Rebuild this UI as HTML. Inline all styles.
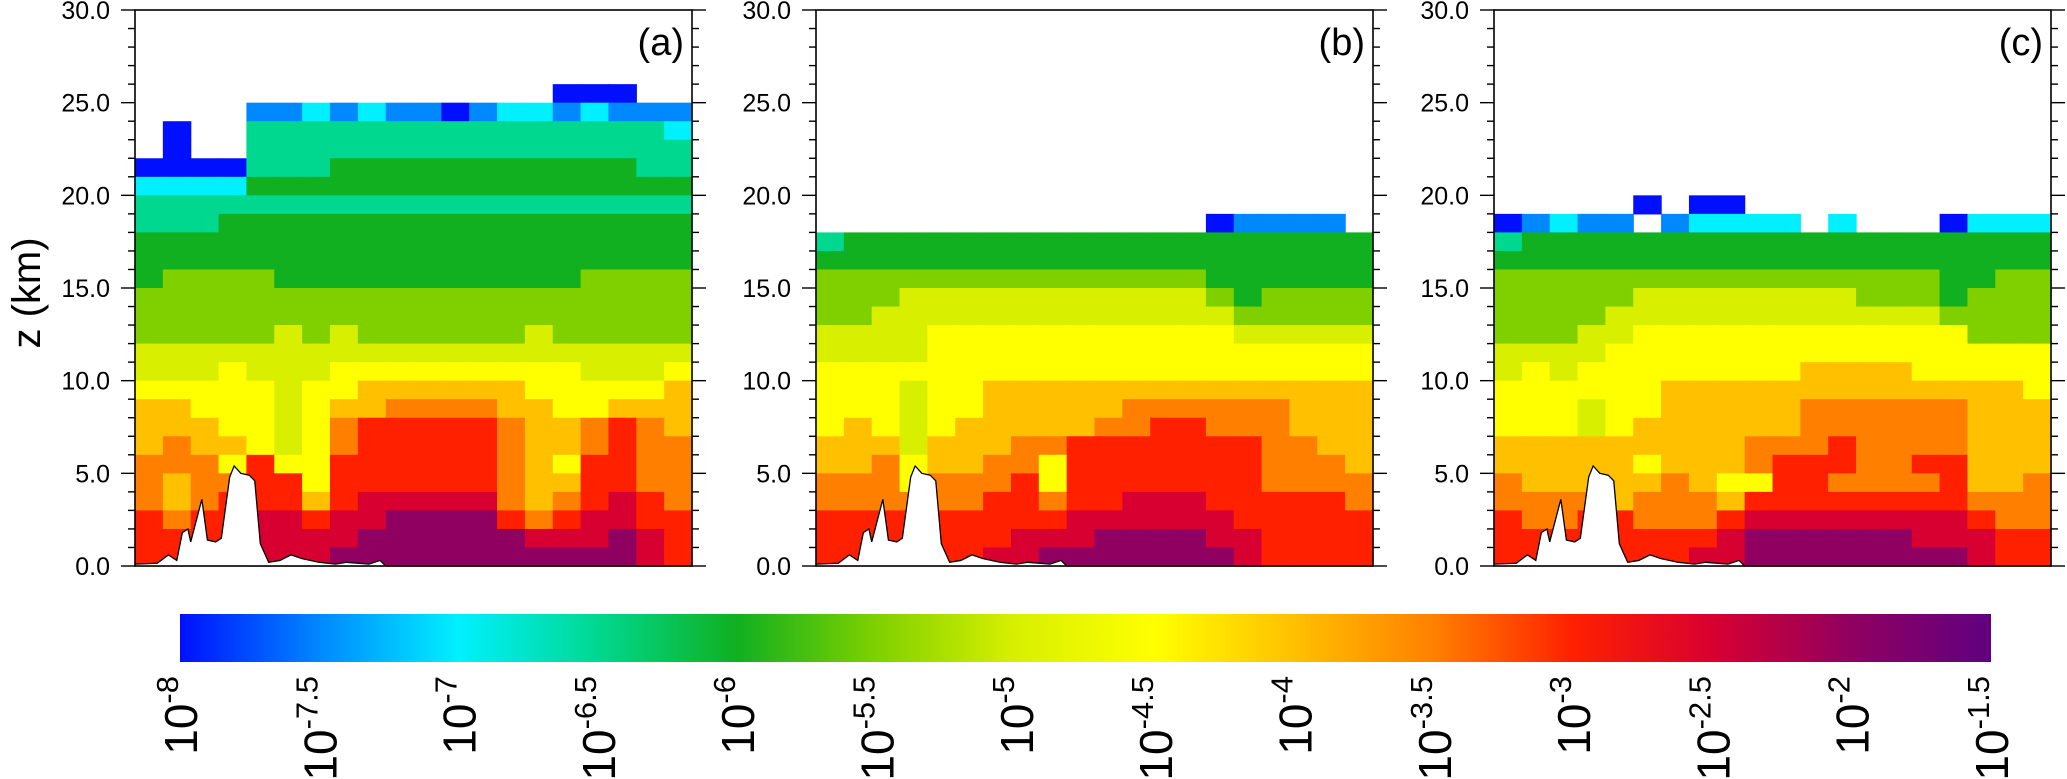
<!DOCTYPE html>
<html><head><meta charset="utf-8"><style>
html,body{margin:0;padding:0;background:#fff;}
svg{display:block;font-family:"Liberation Sans",sans-serif;}
</style></head><body>
<svg id="fig" width="2067" height="779" viewBox="0 0 2067 779" xmlns="http://www.w3.org/2000/svg">
<defs><linearGradient id="cbg" x1="0" x2="1" y1="0" y2="0"></linearGradient></defs>
<text x="0" y="0" transform="translate(40,293) rotate(-90)" text-anchor="middle" font-size="40">z (km)</text>
</svg>
<script>
// ---- data ----
const levelExps = [-8,-7.5,-7,-6.5,-6,-5.5,-5,-4.5,-4,-3.5,-3,-2.5,-2,-1.5];
const levelColors = ["#0010ff","#0088ff","#00f0ff","#00d890","#10b020","#80d000","#d8f000","#ffff00","#ffc000","#ff8000","#ff2000","#d80030","#900060","#600080"];
const yTicks = [0,5,10,15,20,25,30];
const panelLabels = ["(a)","(b)","(c)"];
const terrainX = [0,0.04,0.06,0.075,0.085,0.095,0.1,0.12,0.13,0.145,0.155,0.17,0.178,0.19,0.205,0.215,0.225,0.24,0.26,0.28,0.3,0.33,0.36,0.38,0.42,0.44,0.45,1];
const terrainZ = [0.1,0.15,0.6,0.3,1.8,2.0,1.3,3.6,1.4,1.3,1.5,4.8,5.4,5.0,4.9,4.6,1.2,0.2,0.3,0.6,0.4,0.2,0.1,0.2,0.1,0.3,0,0];
// grids: rows from z=29 (top) down to z=0, 20 columns; '.' = no data, a..n = levelExps index
const gridA = [
"....................","....................","....................",
"....................",
"...............aaa..",
"....bbcbcbbabccbcbbb",
".a..dddddddddddddddc",
".a..dddddddddddddddd",
"aaaadddeeeeeeeeeeedd",
"cccceeeeeeeeeeeeeeee",
"dddddddddddddddddddd",
"dddeeeeeeeeeeeeeeeee",
"eeeeeeeeeeeeeeeeeeee",
"eeeeeeeeeeeeeeeeeeee",
"effffeeeeeeeeeeeffff",
"ffffffffffffffffffff",
"ffffffffffffffffffff",
"fffffgfgffffffgfffff",
"gggggggggggggggggggg",
"ggghggghhhhhhhhhgggh",
"hhhhhghhiiiiiihhhhhi",
"iihhhghiijjjjiihhiii",
"iiihhghjkkkkkjiijkji",
"ijiihghjkkkkkjiijkjj",
"jjjhkhhkkkkkkjihkkjj",
"jijjkkhkkkkkkjiikkjj",
"jijkkkikllllljijklkj",
"kjkkllkllmmmmkjkllkk",
"kkkkllllmmmmmmlllmlk",
"kkkklllmmmmmmmmmmmlk"];
const gridB = [
"....................","....................","....................","....................",
"....................","....................","....................","....................",
"....................","....................","....................",
"..............abbbb.",
"deeeeeeeeeeeeeeeeeee",
"eeeeeeeeeeeeeeeeeeee",
"ffffffffffffffeeeeee",
"fffgggggggggggfeffff",
"ffgggggggggggggfffff",
"gggghhhhhhhhhhhggggg",
"gggghhhhhhhhhhhhhhhh",
"hhhhhhhhhhhhhhhhhhhh",
"hhhghhiiiiiiiiiiiiii",
"hhhghhiiiiijjjjjjiii",
"hihghiiiiijjkkjjjiii",
"iiigiiijjkkkkkkkjjii",
"iijhiijjhkkkkkkkjjji",
"jjjhjjjkhkkkkkkkjjjj",
"jjjjjjkkjkklllkkkkkj",
"kkkkkkkkkllllllkkkkk",
"kkkkkkklllmmmmllkkkk",
"kkkkkkllmmmmmmmlkkkk"];
const gridC = [
"....................","....................","....................","....................",
"....................","....................","....................","....................",
"....................","....................",
".....a.aa...........",
"abcbb.bcccc.c...accc",
"deeeeeeeeeeeeeeeeeee",
"eeeeeeeeeeeeeeeeeeee",
"ffffffffffffffffeeff",
"fffffggggggggfffefff",
"ffffggggggggggggffff",
"fffgghhhhhhhhhhhhfff",
"gggghhhhhhhhhhhhhhhh",
"ghghhhhhhhhiiiihhhhh",
"hhhhhhiiiiiiiiiiiiih",
"hhhghhiiiiijjjjjjiii",
"hhhghiiiiiijjjjjjiii",
"iiiiiiiiijjjkjjjjiii",
"iiiiihiiijkkkjjkkiii",
"jiiiiijihhkkjjjjkiij",
"jjjjijjjikkkkkkkkjjj",
"kjjkkjjjkllllllllkjj",
"kkkkkkkklmmmmmmlllkk",
"kkkkkkkllmmmmmmmmlkk"];
const grids = [gridA, gridB, gridC];
const cbLabels = ["-8","-7.5","-7","-6.5","-6","-5.5","-5","-4.5","-4","-3.5","-3","-2.5","-2","-1.5"];

// ---- layout ----
const NS = "http://www.w3.org/2000/svg";
const svg = document.getElementById("fig");
const panelLefts = [135, 816, 1494];
const PW = 557, PT = 10, PB = 566, ZMAX = 30;
function mk(tag, attrs, parent){const e=document.createElementNS(NS,tag);for(const k in attrs)e.setAttribute(k,attrs[k]);(parent||svg).appendChild(e);return e;}
function yScale(z){return PB - (z/ZMAX)*(PB-PT);}

grids.forEach((grid, p) => {
  const x0 = panelLefts[p];
  const xScale = f => x0 + f*PW;
  const g = mk("g", {});
  
  
  const nr = grid.length, nc = grid[0].length;
  for (let r = 0; r < nr; r++) {
    const z = (nr - 1 - r);
    for (let c = 0; c < nc; c++) {
      const ch = grid[r][c];
      if (ch === ".") continue;
      const li = ch.charCodeAt(0) - 97;
      const x1 = xScale(c/nc), x2 = xScale((c+1)/nc);
      const y1 = yScale(z+1), y2 = yScale(z);
      const cell = mk("rect", {x:x1, y:y1, width:x2-x1+0.6, height:y2-y1+0.6, fill:levelColors[li]}, g);
      
      
    }
  }
  let d = "M" + xScale(0) + "," + PB;
  terrainX.forEach((f,i)=>{ d += " L" + xScale(f) + "," + yScale(terrainZ[i]); });
  d += " L" + xScale(1) + "," + PB + " Z";
  const terr = mk("path", {d:d, fill:"#fff", stroke:"none"}, g);
  
  
  let d2 = "M" + xScale(0) + "," + yScale(terrainZ[0]);
  terrainX.forEach((f,i)=>{ d2 += " L" + xScale(f) + "," + yScale(terrainZ[i]); });
  const terrLine = mk("path", {d:d2, fill:"none", stroke:"#000", "stroke-width":1.3}, g);
  
  
  const fr = mk("rect", {x:x0, y:PT, width:PW, height:PB-PT, fill:"none", stroke:"#000", "stroke-width":1.6}, g);
  
  
  for (let z = 0; z <= ZMAX; z++) {
    const len = (z % 5 === 0) ? 14 : 7;
    const y = yScale(z);
    const tl = mk("line", {x1:x0-len, x2:x0, y1:y, y2:y, stroke:"#000", "stroke-width":1.4}, g);
    
    
    const tr = mk("line", {x1:x0+PW, x2:x0+PW+len, y1:y, y2:y, stroke:"#000", "stroke-width":1.4}, g);
    
    
  }
  yTicks.forEach(v => {
    const t = mk("text", {x:x0-25, y:yScale(v)+9, "text-anchor":"end", "font-size":25}, g);
    
    
    t.textContent = v.toFixed(1);
  });
  const pl = mk("text", {x:x0+PW-8, y:55, "text-anchor":"end", "font-size":38}, g);
  
  
  pl.textContent = panelLabels[p];
});

// colorbar
const CBX0 = 180, CBX1 = 1991, CBY0 = 614, CBY1 = 662;
const grad = document.getElementById("cbg");
levelColors.forEach((col,i)=>{ mk("stop", {offset:(i/(levelColors.length-1)), "stop-color":col}, grad); });
const cb = mk("rect", {x:CBX0, y:CBY0, width:CBX1-CBX0, height:CBY1-CBY0, fill:"url(#cbg)"});


const cbScale = e => CBX0 + (e - levelExps[0])/(levelExps[levelExps.length-1]-levelExps[0])*(CBX1-CBX0);
cbLabels.forEach((lab,i)=>{
  const x = cbScale(levelExps[i]) + 17, y = 676;
  const t = mk("text", {x:0, y:0, transform:"translate("+x+","+y+") rotate(-90)", "text-anchor":"end", "font-size":46});
  
  
  const b = mk("tspan", {}, t); b.textContent = "10";
  const s = mk("tspan", {dy:-19, "font-size":31}, t); s.textContent = lab;
});
</script>
</body></html>
